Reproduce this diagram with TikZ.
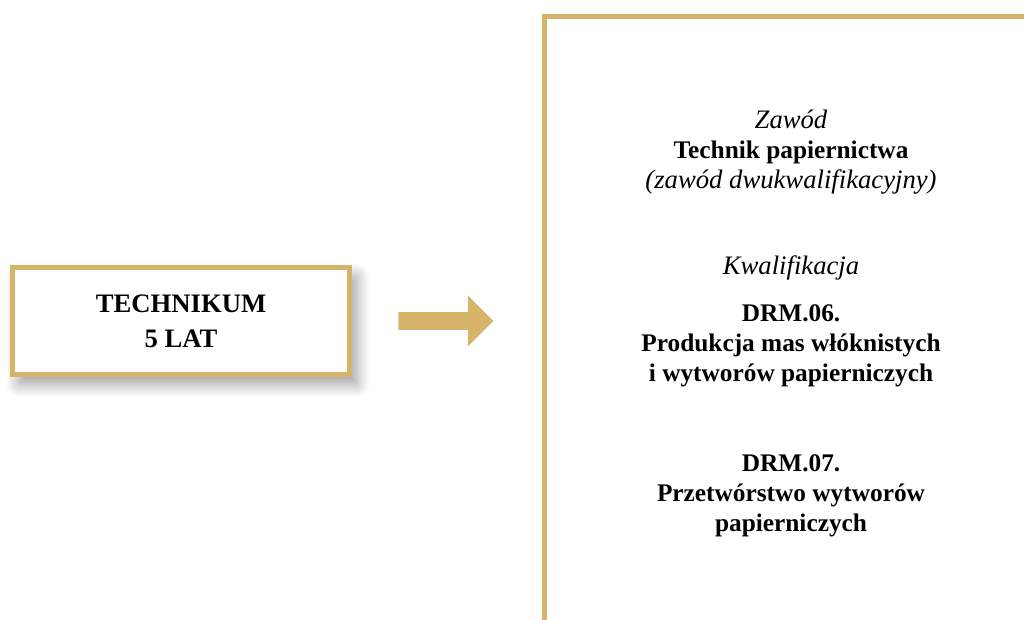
\documentclass[tikz,border=0pt]{standalone}
\usepackage{fontspec}
\setmainfont{Liberation Serif}
\usepackage{xcolor}
\usetikzlibrary{shadows,shadows.blur,shapes.arrows}

\definecolor{gold}{RGB}{214,181,107}

\begin{document}
\begin{tikzpicture}[x=0.75pt, y=-0.75pt,
  every node/.style={align=center, inner sep=0pt, font=\fontsize{19}{22.5}\selectfont},
  frame/.style={draw=gold, line width=3.75pt},
  heading/.style={font=\fontsize{19}{22.5}\selectfont\bfseries},
  caption/.style={font=\fontsize{20}{22.5}\selectfont\itshape}]
  % Canvas of the picture
  \useasboundingbox (0,0) rectangle (1024,619);
  \clip (0,0) rectangle (1024,619);

  % Box on the left with its shadow
  \node[frame, fill=white, minimum width=252.75pt, minimum height=80.25pt,
    font=\fontsize{20}{22.5}\selectfont\bfseries,
    blur shadow={shadow xshift=5pt, shadow yshift=-7pt, shadow blur radius=10pt,
      shadow blur steps=16, shadow opacity=40}]
    (school) at (181,321) {TECHNIKUM\\[3.5pt]5 LAT};

  % Block arrow
  \node[single arrow, fill=gold, minimum height=71.25pt, inner ysep=6.4pt,
    single arrow head extend=12.4pt, anchor=tail] (arrow) at (398,321) {};

  % Frame on the right, cut off by the edges
  \draw[frame] (544.5,660) -- (544.5,16.5) -- (1060,16.5);

  % Texts in the frame
  \node (job) at (791,152) {{\fontsize{20}{22.5}\selectfont\itshape Zawód}\\
    \textbf{Technik papiernictwa}\\
    {\fontsize{20}{22.5}\selectfont\itshape (zawód dwukwalifikacyjny)}};
  \node[caption] (qual) at (791,268) {Kwalifikacja};
  \node[heading] (drm6) at (791,346) {DRM.06.\\Produkcja mas włóknistych\\i wytworów papierniczych};
  \node[heading] (drm7) at (791,496) {DRM.07.\\Przetwórstwo wytworów\\papierniczych};
\end{tikzpicture}
\end{document}
